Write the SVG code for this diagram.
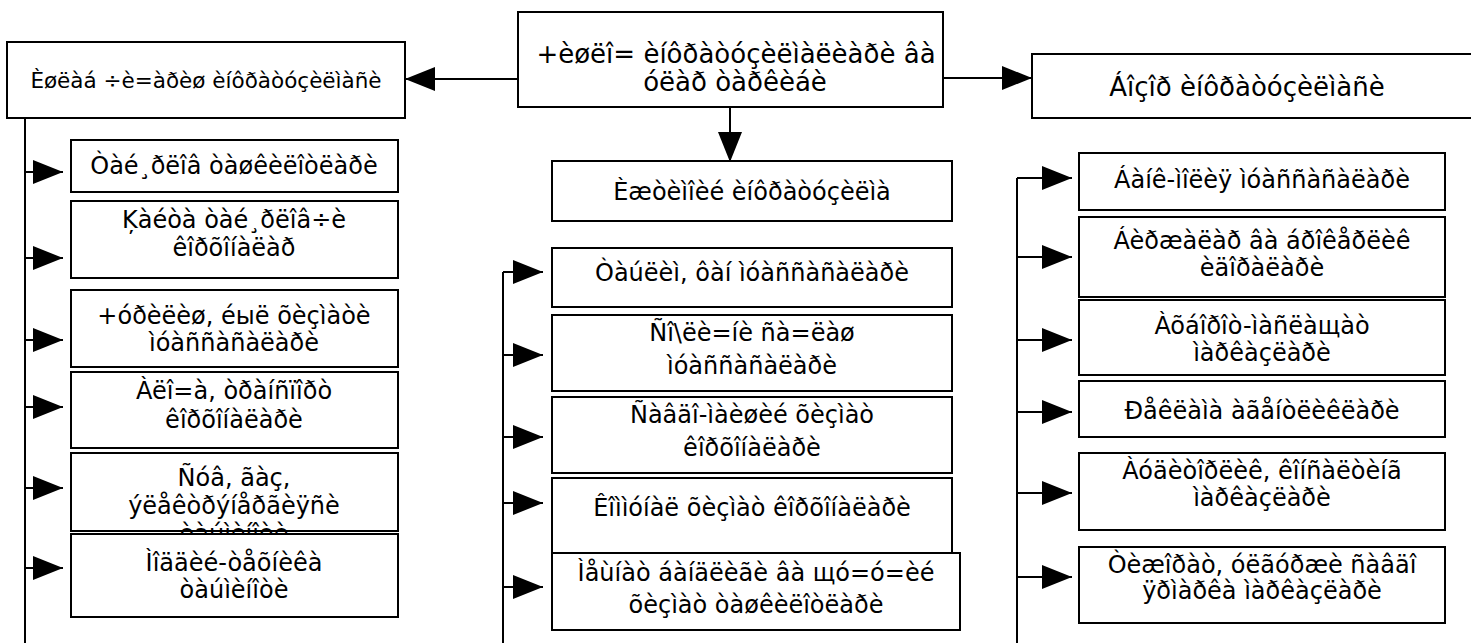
<svg xmlns="http://www.w3.org/2000/svg" width="1471" height="643" viewBox="0 0 1471 643">
<style>
.b{fill:#fff;stroke:#000;stroke-width:2}
.t{font-family:"DejaVu Sans",sans-serif;font-size:24px;fill:#000;text-anchor:middle}
.h{font-size:26px}
.s{font-size:21.5px}
.c{fill:none;stroke:#000;stroke-width:2}
</style>
<defs>
<marker id="a" markerUnits="userSpaceOnUse" markerWidth="30" markerHeight="24" refX="30" refY="12" orient="auto" viewBox="0 0 30 24"><path d="M0,0 L30,12 L0,24 z" fill="#000"/></marker>
</defs>
<g id="connectors" class="c">
<path d="M518,79 H405" marker-end="url(#a)"/>
<path d="M943,78 H1032" marker-end="url(#a)"/>
<path d="M730,107 V162" marker-end="url(#a)"/>
<path d="M25,118 V643"/>
<path d="M25,172 H63" marker-end="url(#a)"/>
<path d="M25,258 H63" marker-end="url(#a)"/>
<path d="M25,340 H63" marker-end="url(#a)"/>
<path d="M25,407 H63" marker-end="url(#a)"/>
<path d="M25,488 H63" marker-end="url(#a)"/>
<path d="M25,568 H63" marker-end="url(#a)"/>
<path d="M503,272 V643"/>
<path d="M503,272 H543" marker-end="url(#a)"/>
<path d="M503,355 H543" marker-end="url(#a)"/>
<path d="M503,437 H543" marker-end="url(#a)"/>
<path d="M503,503 H543" marker-end="url(#a)"/>
<path d="M503,587 H543" marker-end="url(#a)"/>
<path d="M1017,178 V643"/>
<path d="M1017,178 H1072" marker-end="url(#a)"/>
<path d="M1017,257 H1072" marker-end="url(#a)"/>
<path d="M1017,340 H1072" marker-end="url(#a)"/>
<path d="M1017,412 H1072" marker-end="url(#a)"/>
<path d="M1017,493 H1072" marker-end="url(#a)"/>
<path d="M1017,577 H1072" marker-end="url(#a)"/>
</g>
<g id="top-center"><rect class="b" x="518" y="12" width="425" height="95"/><text class="t h" x="736" y="63">+èøëî= èíôðàòóçèëìàëèàðè âà</text><text class="t h" x="735" y="91">óëàð òàðêèáè</text></g>
<g id="top-left"><rect class="b" x="7" y="42" width="398" height="76"/><text class="t s" x="206" y="88">Èøëàá ÷è=àðèø èíôðàòóçèëìàñè</text></g>
<g id="top-right"><rect class="b" x="1032" y="54" width="445" height="64"/><text class="t h" x="1247" y="96">Áîçîð èíôðàòóçèëìàñè</text></g>
<g id="l1"><rect class="b" x="71" y="140" width="327" height="52"/><text class="t" x="234" y="174">Òàé¸ðëîâ òàøêèëîòëàðè</text></g>
<g id="l2"><rect class="b" x="71" y="201" width="327" height="77"/><text class="t" x="234" y="228">Ķàéòà òàé¸ðëîâ÷è</text><text class="t" x="234" y="256">êîðõîíàëàð</text></g>
<g id="l3"><rect class="b" x="71" y="290" width="327" height="77"/><text class="t" x="234" y="324">+óðèëèø, éыë õèçìàòè</text><text class="t" x="234" y="351">ìóàññàñàëàðè</text></g>
<g id="l4"><rect class="b" x="71" y="372" width="327" height="76"/><text class="t" x="234" y="399">Àëî=à, òðàíñïîðò</text><text class="t" x="234" y="428">êîðõîíàëàðè</text></g>
<g id="l5"><rect class="b" x="71" y="453" width="327" height="78"/><text class="t" x="234" y="486">Ñóâ, ãàç,</text><text class="t" x="234" y="514">ýëåêòðýíåðãèÿñè</text><text class="t" x="234" y="542">òàúìèíîòè</text></g>
<g id="l6"><rect class="b" x="71" y="534" width="327" height="83"/><text class="t" x="234" y="571">Ìîääèé-òåõíèêà</text><text class="t" x="234" y="598">òàúìèíîòè</text></g>
<g id="c0"><rect class="b" x="552" y="161" width="400" height="60"/><text class="t" x="752" y="200">Èæòèìîèé èíôðàòóçèëìà</text></g>
<g id="c1"><rect class="b" x="552" y="248" width="400" height="59"/><text class="t" x="752" y="281">Òàúëèì, ôàí ìóàññàñàëàðè</text></g>
<g id="c2"><rect class="b" x="552" y="315" width="400" height="76"/><text class="t" x="752" y="341">Ñî\ëè=íè ñà=ëàø</text><text class="t" x="752" y="374">ìóàññàñàëàðè</text></g>
<g id="c3"><rect class="b" x="552" y="397" width="400" height="76"/><text class="t" x="752" y="423">Ñàâäî-ìàèøèé õèçìàò</text><text class="t" x="752" y="456">êîðõîíàëàðè</text></g>
<g id="c4"><rect class="b" x="552" y="478" width="400" height="75"/><text class="t" x="752" y="516">Êîììóíàë õèçìàò êîðõîíàëàðè</text></g>
<g id="c5"><rect class="b" x="552" y="553" width="408" height="77"/><text class="t" x="756" y="581">Ìåùíàò áàíäëèãè âà щó=ó=èé</text><text class="t" x="756" y="613">õèçìàò òàøêèëîòëàðè</text></g>
<g id="r1"><rect class="b" x="1079" y="153" width="366" height="57"/><text class="t" x="1262" y="188">Áàíê-ìîëèÿ ìóàññàñàëàðè</text></g>
<g id="r2"><rect class="b" x="1079" y="217" width="366" height="80"/><text class="t" x="1262" y="249">Áèðæàëàð âà áðîêåðëèê</text><text class="t" x="1262" y="276">èäîðàëàðè</text></g>
<g id="r3"><rect class="b" x="1079" y="300" width="366" height="75"/><text class="t" x="1262" y="334">Àõáîðîò-ìàñëàщàò</text><text class="t" x="1262" y="361">ìàðêàçëàðè</text></g>
<g id="r4"><rect class="b" x="1079" y="381" width="366" height="56"/><text class="t" x="1262" y="419">Ðåêëàìà àãåíòëèêëàðè</text></g>
<g id="r5"><rect class="b" x="1079" y="453" width="366" height="77"/><text class="t" x="1262" y="479">Àóäèòîðëèê, êîíñàëòèíã</text><text class="t" x="1262" y="506">ìàðêàçëàðè</text></g>
<g id="r6"><rect class="b" x="1079" y="547" width="366" height="76"/><text class="t" x="1262" y="573">Òèæîðàò, óëãóðæè ñàâäî</text><text class="t" x="1262" y="599">ÿðìàðêà ìàðêàçëàðè</text></g>
</svg>
